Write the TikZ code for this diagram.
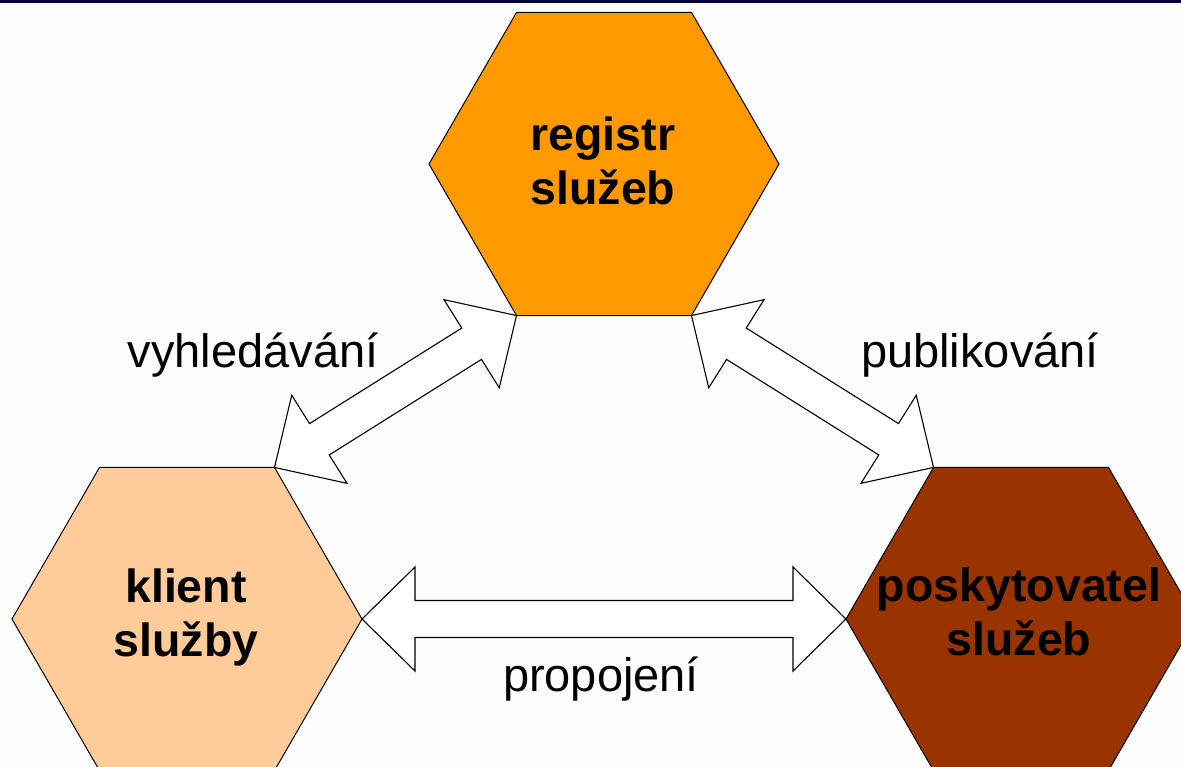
\documentclass[tikz,border=0pt]{standalone}
\usepackage{fontspec}
\setmainfont{Liberation Sans}
\usetikzlibrary{shapes.geometric,calc}
\definecolor{regc}{RGB}{255,153,0}
\definecolor{klic}{RGB}{255,204,153}
\definecolor{posc}{RGB}{153,51,0}
\definecolor{barc}{RGB}{0,0,64}
\definecolor{bgc}{RGB}{253,253,253}
\newcommand\blockarrow[2]{%
  \filldraw[barrow] (#1)
    -- ($(#1)!53pt!(#2)!52pt!90:(#2)$)
    -- ($(#1)!53pt!(#2)!18.5pt!90:(#2)$)
    -- ($(#2)!53pt!(#1)!18.5pt!-90:(#1)$)
    -- ($(#2)!53pt!(#1)!52pt!-90:(#1)$)
    -- (#2)
    -- ($(#2)!53pt!(#1)!52pt!90:(#1)$)
    -- ($(#2)!53pt!(#1)!18.5pt!90:(#1)$)
    -- ($(#1)!53pt!(#2)!18.5pt!-90:(#2)$)
    -- ($(#1)!53pt!(#2)!52pt!-90:(#2)$)
    -- cycle;}
\tikzset{
  hexa/.style={regular polygon, regular polygon sides=6, minimum size=350pt,
    inner sep=0pt, outer sep=0pt, draw=black, line width=1pt},
  hextext/.style={align=center, inner sep=0pt,
    font=\bfseries\fontsize{46.5}{54}\selectfont},
  lbl/.style={anchor=base, inner sep=0pt, font=\fontsize{47}{54}\selectfont},
  barrow/.style={fill=white, draw=black, line width=1.1pt, line join=miter}
}
\begin{document}
\begin{tikzpicture}[x=1pt,y=-1pt]
\useasboundingbox (0,0) rectangle (1181,767);
\clip (0,0) rectangle (1181,767);
\fill[bgc] (0,0) rectangle (1181,767);
\fill[barc] (0,0) rectangle (1181,3.5);
\node[hexa, fill=regc] (reg) at (604,164) {};
\node[hexa, fill=klic] (kli) at (187,619) {};
\node[hexa, fill=posc] (pos) at (1021,619) {};
\node[hextext] (regt) at (603,167) {\strut registr\\\strut služeb};
\node[hextext] (klit) at (186,619) {\strut klient\\\strut služby};
\node[hextext] (post) at (1019,618) {\strut poskytovatel\\\strut služeb};
\blockarrow{reg.240}{kli.60}
\blockarrow{reg.300}{pos.120}
\blockarrow{kli.0}{pos.180}
\node[lbl] (vyh) at (253,367) {vyhledávání};
\node[lbl] (pub) at (980,367) {publikování};
\node[lbl] (pro) at (601,691) {propojení};
\end{tikzpicture}
\end{document}
